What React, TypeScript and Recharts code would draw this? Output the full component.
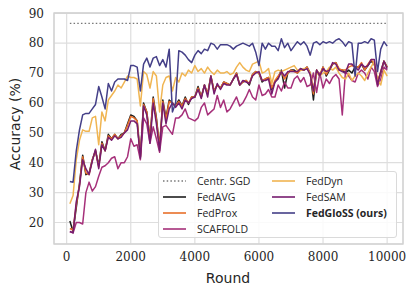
import { LineChart, Line, XAxis, YAxis, CartesianGrid, Legend, ReferenceLine, ReferenceArea, Label } from "recharts";

const ROUNDS = [
  100, 200, 300, 400, 500, 600, 700, 800, 900, 1000,
  1100, 1200, 1300, 1400, 1500, 1600, 1700, 1800, 1900, 2000,
  2100, 2200, 2300, 2400, 2500, 2600, 2700, 2800, 2900, 3000,
  3100, 3200, 3300, 3400, 3500, 3600, 3700, 3800, 3900, 4000,
  4100, 4200, 4300, 4400, 4500, 4600, 4700, 4800, 4900, 5000,
  5100, 5200, 5300, 5400, 5500, 5600, 5700, 5800, 5900, 6000,
  6100, 6200, 6300, 6400, 6500, 6600, 6700, 6800, 6900, 7000,
  7100, 7200, 7300, 7400, 7500, 7600, 7700, 7800, 7900, 8000,
  8100, 8200, 8300, 8400, 8500, 8600, 8700, 8800, 8900, 9000,
  9100, 9200, 9300, 9400, 9500, 9600, 9700, 9800, 9900, 10000,
];

const FEDAVG = [
  20.5, 17, 25, 33, 42.5, 36, 36.5, 41, 44, 39,
  47, 44, 49.5, 48, 49.5, 48, 49.5, 50, 53, 56,
  55.5, 54, 42, 60, 57, 48, 62, 55, 45, 61,
  55, 61, 60, 59, 61, 59, 62, 59.5, 62, 62,
  65.5, 62, 66, 63, 69, 64, 66, 65, 67, 66.5,
  66, 68, 70, 66, 67, 67.5, 66, 69.5, 70.5, 70,
  67, 68, 68.5, 64.5, 67, 68.5, 71, 65, 70, 71,
  71, 70, 71.5, 71, 72, 70, 61, 71, 69, 72,
  69, 71, 73, 73.5, 71, 71, 70, 71, 70, 72,
  72, 73, 71, 72.5, 74, 73, 67, 70, 74, 72,
];

const FEDPROX = [
  18, 17.5, 26, 32.5, 42, 36.5, 36, 41, 44, 38.5,
  46.5, 44, 49, 48, 49.5, 48, 49, 50, 52.5, 55.5,
  55, 54, 42, 59.5, 57, 48, 61.5, 54.5, 45, 60.5,
  54.5, 60.5, 60, 59, 60.5, 59, 61.5, 60, 62, 62,
  65, 62, 66, 63, 69, 64, 66, 65, 67, 66.5,
  66, 68, 70, 66, 67, 67.5, 66.5, 69.5, 70.5, 70,
  67.5, 68, 68.5, 65, 67.5, 69, 70.5, 68, 70, 71,
  70.5, 70, 71, 71, 72, 70, 63, 71, 69.5, 72,
  69.5, 71.5, 73, 73.5, 71.5, 71, 71, 72, 72.5, 72,
  72, 73.5, 71, 73, 74.5, 73, 67, 70.5, 74, 72,
];

const SCAFFOLD = [
  17, 16.5, 20, 20, 19.5, 30, 33.5, 30.5, 32, 35.5,
  38.5, 39, 40, 41.5, 42, 38, 40, 40, 42, 48,
  45.5, 46, 41, 55, 53, 46.5, 52, 48, 43.5, 52,
  52.5, 51, 49.5, 55, 55, 56, 58, 55, 54.5, 54,
  55, 58.5, 60, 56, 57, 58, 62.5, 58.5, 61, 57,
  58, 60, 62, 59, 60, 62, 64.5, 62, 61, 66,
  62.5, 63, 64.5, 62, 62, 66, 64, 67, 65, 65,
  68, 69, 67, 68.5, 65.5, 66, 70, 63.5, 70, 65,
  68, 66.5, 68.5, 69.5, 68, 56, 70.5, 69, 67.5, 67,
  70, 71, 70, 68, 72, 70.5, 65.5, 68, 72, 71,
];

const FEDDYN = [
  26.3, 29, 41, 47.5, 51, 50.5, 50.5, 55, 55.5, 46,
  57, 54, 61, 62.5, 64, 66, 65, 67, 69, 68.5,
  68.5, 68, 59, 70.5, 69.5, 65, 70.5, 69, 57, 66,
  68.5, 69, 64, 68.5, 67, 70, 69, 71, 70, 72.5,
  70.5, 71.5, 70, 72, 70.5, 69.5, 71, 70, 70, 70.5,
  69.5, 70, 72, 73.5, 72, 71, 70.5, 73, 73.5, 74,
  70, 70.5, 71.5, 66.5, 70.5, 71, 70.5, 71, 71.5, 72,
  72.5, 71, 71, 71.5, 71.5, 70, 65, 70, 69, 70,
  70.5, 72, 71, 72, 70, 68.5, 68, 70, 67.5, 69,
  70, 69, 67.5, 70, 72, 74, 68, 66, 71, 69,
];

const FEDSAM = [
  17, 16.5, 27, 32, 41, 38, 36, 40.5, 44.5, 38,
  46, 44, 48.5, 47.5, 49, 48, 48.5, 50, 51, 54,
  54, 53, 41.5, 59, 56, 46.5, 60, 53, 44, 60,
  53, 58, 60, 58.5, 60, 58, 61, 60, 61.5, 62,
  64.5, 61.5, 66, 62, 69, 63, 66.5, 64.5, 66.5, 66,
  66, 68, 69.5, 66, 67.5, 67, 66.5, 69, 70, 70.5,
  67.5, 67.5, 68, 63, 67, 68, 70.5, 69, 70.5, 70.5,
  70.5, 70.5, 71.5, 71, 71.5, 69.5, 64, 71, 69, 71.5,
  70.5, 71, 73.5, 73, 71, 70.5, 70, 73, 73, 72,
  71, 73, 72, 72.5, 74.5, 74.5, 66, 70.5, 74, 71.5,
];

const FEDGLOSS = [
  33.7, 33.5, 44, 51, 56, 56.5, 56.5, 58, 59.5, 65.5,
  62, 58, 66.5, 64, 67, 68, 68, 68, 67.5, 72.5,
  72.5, 72, 64, 73, 75, 72, 75, 75.5, 72.5, 74.5,
  72, 78, 57, 60, 77.5, 77, 76, 74.5, 73.5, 76,
  77.5, 76.5, 78, 77.5, 80, 79.5, 78, 79.5, 79.5, 79.5,
  79, 78, 79, 79.5, 80, 79.5, 79, 80, 77, 72.5,
  80, 78, 80, 79, 79, 77.5, 81.5, 78.5, 80, 77.5,
  79, 80.5, 79.5, 80.5, 79, 76, 80, 80.5, 79.5, 80.5,
  80, 80.5, 80, 81, 81.5, 80.5, 79, 80.5, 80, 69,
  80, 80, 80.5, 80, 81.5, 81, 70.5, 78, 80.5, 79,
];

const SGD_ACC = 86.6;
const X_TICKS = [0, 2000, 4000, 6000, 8000, 10000];
const Y_TICKS = [20, 30, 40, 50, 60, 70, 80, 90];

const SERIES = [
  { key: "fedavg", name: "FedAVG", color: "#1e1e1e", values: FEDAVG },
  { key: "fedprox", name: "FedProx", color: "#e8702a", values: FEDPROX },
  { key: "scaffold", name: "SCAFFOLD", color: "#a6307a", values: SCAFFOLD },
  { key: "feddyn", name: "FedDyn", color: "#f0b552", values: FEDDYN },
  { key: "fedsam", name: "FedSAM", color: "#761c6e", values: FEDSAM },
  { key: "fedgloss", name: "FedGloSS (ours)", color: "#443f88", values: FEDGLOSS, bold: true },
];

const data = ROUNDS.map((round, i) => {
  const row: Record<string, number> = { round };
  SERIES.forEach((s) => (row[s.key] = s.values[i]));
  return row;
});

const legendCol1 = [{ name: "Centr. SGD", color: "#777", dotted: true }, ...SERIES.slice(0, 3)];
const legendCol2 = SERIES.slice(3);

function LegendItem({ item, x, y }: { item: any; x: number; y: number }) {
  return (
    <div style={{ position: "absolute", left: x, top: y, display: "flex", alignItems: "center", height: 14 }}>
      <svg width={23} height={4} style={{ marginRight: 11 }}>
        <line
          x1={0} y1={2} x2={23} y2={2}
          stroke={item.color}
          strokeWidth={item.dotted ? 1.3 : 1.6}
          strokeDasharray={item.dotted ? "1.5 2.2" : undefined}
        />
      </svg>
      <span style={{ fontWeight: item.bold ? 700 : 400 }}>{item.name}</span>
    </div>
  );
}

function renderLegend() {
  return (
    <div
      style={{
        position: "relative",
        width: 239,
        height: 67,
        boxSizing: "border-box",
        border: "1px solid #dadada",
        borderRadius: 3,
        background: "rgba(255,255,255,0.85)",
        fontFamily: "'Open Sans', sans-serif",
        fontSize: 10.5,
        color: "#262626",
      }}
    >
      {legendCol1.map((it, i) => (
        <LegendItem key={it.name} item={it} x={4} y={2 + i * 16} />
      ))}
      {legendCol2.map((it, i) => (
        <LegendItem key={it.name} item={it} x={113} y={2 + i * 16} />
      ))}
    </div>
  );
}

const tickStyle = { fontFamily: "'DejaVu Serif', serif", fontSize: 12, fill: "#262626" };

export default function App() {
  return (
    <div style={{ position: "absolute", left: 0, top: 0, background: "#fff" }}>
      <LineChart width={415} height={295} data={data} margin={{ top: 13, right: 12, bottom: 0, left: 0 }}>
        <CartesianGrid stroke="#dedede" strokeWidth={1.2} />
        <ReferenceArea x1={-395} x2={10495} y1={12.8} y2={90.1} fill="none" stroke="#d2d2d2" strokeWidth={1.3} />
        <XAxis
          type="number"
          dataKey="round"
          domain={[-395, 10495]}
          ticks={X_TICKS}
          tickLine={false}
          axisLine={false}
          height={51}
          tick={tickStyle}
          allowDataOverflow
        >
          <Label
            content={() => (
              <text x={228} y={278} textAnchor="middle" dominantBaseline="central"
                style={{ fontFamily: "'DejaVu Sans', sans-serif", fontSize: 14, fill: "#262626" }}>
                Round
              </text>
            )}
          />
        </XAxis>
        <YAxis
          type="number"
          domain={[12.8, 90.1]}
          ticks={Y_TICKS}
          tickLine={false}
          axisLine={false}
          width={54}
          tickMargin={4}
          tick={tickStyle}
          allowDataOverflow
        >
          <Label
            content={() => (
              <text x={15} y={124} transform="rotate(-90 15 124)" textAnchor="middle" dominantBaseline="central"
                style={{ fontFamily: "'DejaVu Sans', sans-serif", fontSize: 14, fill: "#262626" }}>
                Accuracy (%)
              </text>
            )}
          />
        </YAxis>
        <ReferenceLine
          segment={[{ x: 100, y: SGD_ACC }, { x: 10000, y: SGD_ACC }]}
          stroke="#777"
          strokeWidth={1.3}
          strokeDasharray="1.5 2.2"
        />
        {SERIES.map((s) => (
          <Line
            key={s.key}
            type="linear"
            dataKey={s.key}
            name={s.name}
            stroke={s.color}
            strokeWidth={1.5}
            strokeLinejoin="round"
            dot={false}
            isAnimationActive={false}
          />
        ))}
        <Legend
          content={renderLegend}
          layout="horizontal"
          verticalAlign="middle"
          align="center"
          wrapperStyle={{ left: 158, top: 171, width: 239, height: 67 }}
        />
      </LineChart>
    </div>
  );
}
